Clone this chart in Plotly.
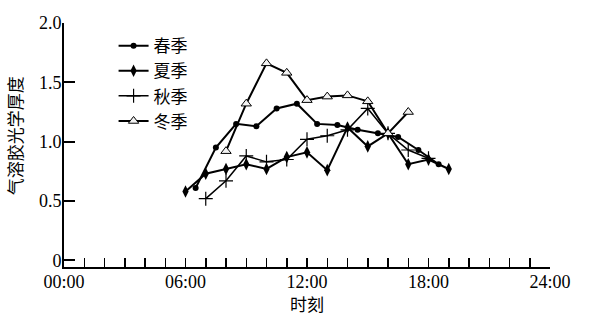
import plotly.graph_objects as go

hours_spring = [6.5, 7.5, 8.5, 9.5, 10.5, 11.5, 12.5, 13.5, 14.5, 15.5, 16.5, 17.5, 18.5]
aod_spring = [0.61, 0.95, 1.15, 1.13, 1.28, 1.32, 1.15, 1.14, 1.10, 1.07, 1.04, 0.93, 0.81]

hours_summer = [6, 7, 8, 9, 10, 11, 12, 13, 14, 15, 16, 17, 18, 19]
aod_summer = [0.58, 0.73, 0.77, 0.81, 0.77, 0.87, 0.91, 0.76, 1.12, 0.96, 1.07, 0.81, 0.85, 0.77]

hours_autumn = [7, 8, 9, 10, 11, 12, 13, 14, 15, 16, 17, 18]
aod_autumn = [0.52, 0.67, 0.88, 0.83, 0.85, 1.02, 1.05, 1.10, 1.28, 1.07, 0.93, 0.86]

hours_winter = [8, 9, 10, 11, 12, 13, 14, 15, 16, 17]
aod_winter = [0.92, 1.32, 1.66, 1.58, 1.35, 1.38, 1.39, 1.34, 1.07, 1.25]

names = ["春季", "夏季", "秋季", "冬季"]
x_tickvals = [0, 6, 12, 18, 24]
x_ticktext = ["00:00", "06:00", "12:00", "18:00", "24:00"]
y_tickvals = [0, 0.5, 1.0, 1.5, 2.0]
y_ticktext = ["0", "0.5", "1.0", "1.5", "2.0"]
x_title = "时刻"
y_title = "气溶胶光学厚度"

NUMFONT = "Liberation Serif, Tinos, Times New Roman, DejaVu Serif, serif"
CJKFONT = "Noto Sans CJK SC"

fig = go.Figure()
fig.add_trace(go.Scatter(x=hours_spring, y=aod_spring, name=names[0], mode="lines+markers",
                         line=dict(color="black", width=2),
                         marker=dict(symbol="circle", size=6, color="black")))
fig.add_trace(go.Scatter(x=hours_summer, y=aod_summer, name=names[1], mode="lines+markers",
                         line=dict(color="black", width=2),
                         marker=dict(symbol="diamond-tall", size=9, color="black")))
fig.add_trace(go.Scatter(x=hours_autumn, y=aod_autumn, name=names[2], mode="lines+markers",
                         line=dict(color="black", width=1.5),
                         marker=dict(symbol="cross-thin", size=10, color="black",
                                     line=dict(color="black", width=1.2))))
fig.add_trace(go.Scatter(x=hours_winter, y=aod_winter, name=names[3], mode="lines+markers",
                         line=dict(color="black", width=2),
                         marker=dict(symbol="triangle-up", size=9, color="#f2f2f2",
                                     line=dict(color="black", width=1))))

fig.update_layout(
    width=590, height=324,
    margin=dict(l=64, r=40, t=23, b=57),
    paper_bgcolor="white", plot_bgcolor="white",
    font=dict(family=NUMFONT, size=18, color="black"),
    showlegend=True,
    hovermode=False,
    legend=dict(x=0.102, y=0.979, xanchor="left", yanchor="top",
                bgcolor="rgba(0,0,0,0)", font=dict(size=17, family=CJKFONT, color="black"),
                tracegroupgap=0, itemwidth=30),
    xaxis=dict(range=[0, 24], tickvals=x_tickvals, ticktext=x_ticktext, automargin=False,
               showgrid=False, zeroline=False, showline=True, linecolor="black", linewidth=2,
               ticks="inside", ticklen=9, tickwidth=1.5, tickcolor="black",
               minor=dict(dtick=1, ticks="inside", ticklen=9, tickwidth=1.5, tickcolor="black", showgrid=False),
               ticklabelstandoff=-3,
               tickfont=dict(size=18, family=NUMFONT, color="black")),
    yaxis=dict(range=[-0.056, 2.0], tickvals=y_tickvals, ticktext=y_ticktext, automargin=False,
               showgrid=False, zeroline=False, showline=True, linecolor="black", linewidth=2,
               ticks="inside", ticklen=11, tickwidth=2, tickcolor="black",
               ticklabelstandoff=-3,
               tickfont=dict(size=18, family=NUMFONT, color="black")),
    annotations=[
        dict(text=x_title, xref="paper", yref="paper", x=0.501, y=-0.15,
             xanchor="center", yanchor="middle", showarrow=False,
             font=dict(size=17, family=CJKFONT, color="black")),
        dict(text=y_title, xref="paper", yref="paper", x=-0.1, y=0.537,
             xanchor="center", yanchor="middle", showarrow=False, textangle=-90,
             font=dict(size=17, family=CJKFONT, color="black")),
    ],
)

fig.write_html("out.html", config={"displayModeBar": False, "staticPlot": True},
               post_script="document.body.style.margin='0';document.body.style.padding='0';document.body.style.overflow='hidden';")
